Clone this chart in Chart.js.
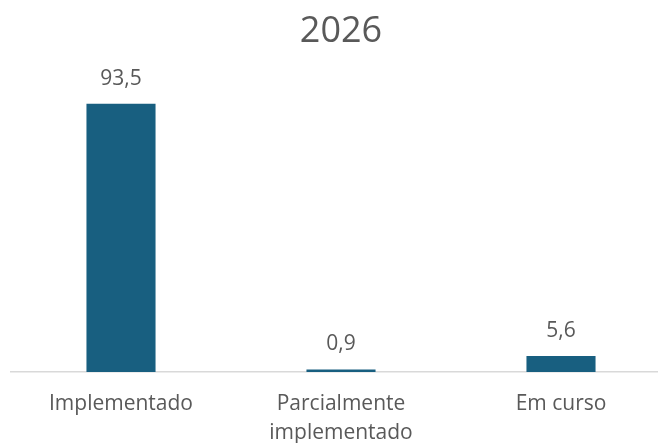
<!DOCTYPE html>
<html>
<head>
<meta charset="utf-8">
<script src="https://cdn.jsdelivr.net/npm/chart.js@4"></script>
<style>
  html, body { margin: 0; padding: 0; background: #fff; overflow: hidden; }
  #wrap { width: 682px; height: 443px; }
</style>
</head>
<body>
<div id="wrap"><canvas id="chart" width="682" height="443"></canvas></div>
<script>
const categories = ['Implementado', ['Parcialmente', 'implementado'], 'Em curso'];
const values = [93.5, 0.9, 5.6];
const valueLabels = ['93,5', '0,9', '5,6'];
const chartTitle = '2026';

const textColor = '#595959';
const fontFamily = '"Open Sans", sans-serif';

// draws the value above each bar
const barLabels = {
  id: 'barLabels',
  afterDatasetsDraw(chart) {
    const ctx = chart.ctx;
    const meta = chart.getDatasetMeta(0);
    ctx.save();
    ctx.fillStyle = textColor;
    ctx.font = '21px ' + fontFamily;
    ctx.textAlign = 'center';
    ctx.textBaseline = 'middle';
    meta.data.forEach((bar, i) => {
      ctx.fillText(valueLabels[i], bar.x, bar.y - 25);
    });
    ctx.restore();
  },
};

new Chart(document.getElementById('chart'), {
  type: 'bar',
  data: {
    labels: categories,
    datasets: [{
      data: values,
      backgroundColor: '#185f80',
      barPercentage: 0.314,
      categoryPercentage: 1,
    }],
  },
  options: {
    responsive: false,
    animation: false,
    layout: { padding: { left: 11, right: 11, top: 0, bottom: 0 } },
    plugins: {
      legend: { display: false },
      tooltip: { enabled: false },
      title: {
        display: true,
        text: chartTitle,
        color: textColor,
        font: { family: fontFamily, size: 36, weight: 'normal', lineHeight: 1.2 },
        padding: { top: 10, bottom: 32 },
      },
    },
    scales: {
      x: {
        grid: { display: false, drawTicks: false },
        border: { display: true, color: '#d9d9d9', width: 1.5 },
        ticks: {
          color: textColor,
          padding: 18,
          maxRotation: 0,
          font: { family: fontFamily, size: 21, lineHeight: 1.35 },
        },
        afterFit(scale) { scale.height = 71; },
      },
      y: {
        display: false,
        min: 0,
        max: 100,
      },
    },
  },
  plugins: [barLabels],
});
</script>
</body>
</html>
